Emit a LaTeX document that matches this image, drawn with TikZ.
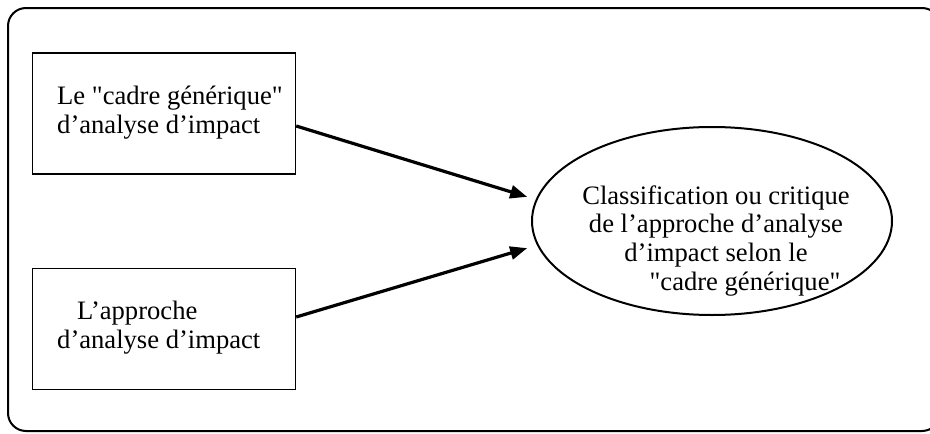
\documentclass[tikz,border=0pt]{standalone}
\usepackage{fontspec}
\setmainfont{Liberation Serif}[Ligatures=TeXOff]
\usetikzlibrary{arrows.meta,shapes.geometric}
\begin{document}
\begin{tikzpicture}[x=1pt,y=-1pt,
  frame/.style={draw,line width=2pt,rounded corners=18pt},
  srcbox/.style={draw,line width=1.4pt,rectangle,inner sep=0pt,
    minimum width=263pt,minimum height=121pt},
  goal/.style={draw,line width=2pt,ellipse,inner sep=0pt,
    minimum width=360pt,minimum height=188pt},
  lbl/.style={font=\fontsize{26.6}{28.6}\selectfont,inner sep=0pt},
  link/.style={line width=3.2pt,-{Triangle[length=17pt,width=13pt]},shorten >=4pt}]
  \useasboundingbox (0,0) rectangle (930,434);
  \clip (0,0) rectangle (930,434);
  % enclosing frame, running past the right edge
  \draw[frame] (8,8) rectangle (940,431);
  % source boxes
  \node[srcbox] (b1) at (164,113.5) {};
  \node[srcbox] (b2) at (164,329) {};
  % multi-line labels: the base anchor sits on the last line
  \node[lbl,anchor=base west,align=left] (t1) at (57,133)
    {Le "cadre générique"\\d’analyse d’impact};
  \node[lbl,anchor=base west,align=left] (t2) at (57,348)
    {\hspace*{20pt}L’approche\\d’analyse d’impact};
  % target ellipse
  \node[goal] (e) at (712,221) {};
  \node[lbl,anchor=base,align=center] (t3) at (716,290)
    {Classification ou critique\\de l’approche d’analyse\\d’impact selon le\\\hspace*{58pt}"cadre générique"};
  % connectors
  \draw[link] ([yshift=-12.5pt]b1.east) -- ([yshift=23pt]e.west);
  \draw[link] ([yshift=12pt]b2.east) -- ([yshift=-26pt]e.west);
\end{tikzpicture}
\end{document}
